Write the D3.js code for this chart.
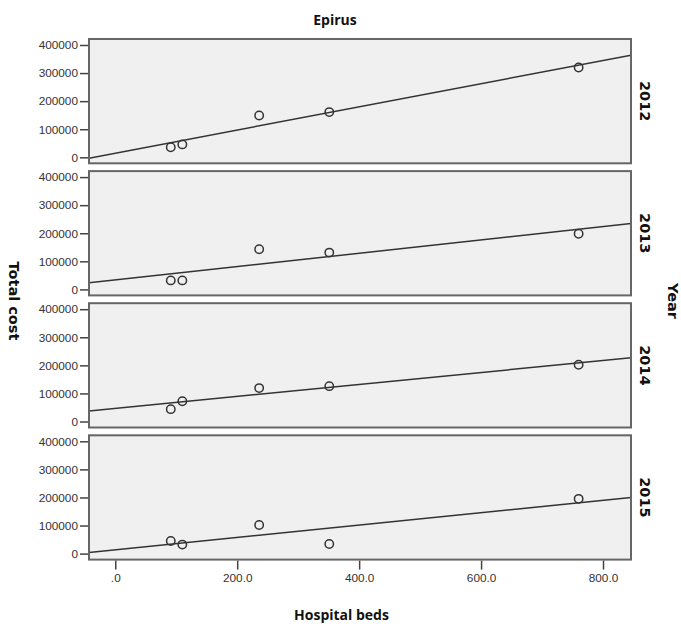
<!DOCTYPE html>
<html><head><meta charset="utf-8">
<script src="https://cdn.jsdelivr.net/npm/d3@7"></script>
<style>body{margin:0;background:#fff}</style>
</head><body>
<script>
const years = ["2012", "2013", "2014", "2015"];
const beds = [91, 110, 236, 351, 760];
const cost2012 = [36000, 46000, 149000, 161000, 320000];
const cost2013 = [32000, 32000, 143000, 131000, 198000];
const cost2014 = [44000, 72000, 119000, 126000, 202000];
const cost2015 = [45000, 32000, 102000, 34000, 195000];
const costs = [cost2012, cost2013, cost2014, cost2015];
const yTicks = [0, 100000, 200000, 300000, 400000];
const xTicks = [0, 200, 400, 600, 800];

const W = 681, H = 624;
const left = 89, right = 631, top0 = 39, panelH = 124.3, step = 132.1;

const svg = d3.select("body").append("svg").attr("width", W).attr("height", H);

const x = d3.scaleLinear().domain([-43.1, 845.9]).range([left, right]);

function fit(xs, ys) {
  const mx = d3.mean(xs), my = d3.mean(ys);
  let sxy = 0, sxx = 0;
  xs.forEach((v, i) => { sxy += (v - mx) * (ys[i] - my); sxx += (v - mx) * (v - mx); });
  const b = sxy / sxx;
  return { a: my - b * mx, b };
}

years.forEach((yr, i) => {
  const t = top0 + i * step;
  const y = d3.scaleLinear().domain([0, 400000]).range([t + 118.3, t + 6]);
  const g = svg.append("g");
  g.append("rect").attr("x", left).attr("y", t).attr("width", right - left).attr("height", panelH)
    .attr("fill", "#f0f0f0");
  const clipId = "c" + i;
  svg.append("clipPath").attr("id", clipId).append("rect")
    .attr("x", left).attr("y", t).attr("width", right - left).attr("height", panelH);
  const data = beds.map((b, k) => ({ b, c: costs[i][k] }));
  const f = fit(beds, costs[i]);
  const dom = x.domain();
  g.append("line").attr("clip-path", `url(#${clipId})`)
    .attr("x1", x(dom[0])).attr("y1", y(f.a + f.b * dom[0]))
    .attr("x2", x(dom[1])).attr("y2", y(f.a + f.b * dom[1]))
    .attr("stroke", "#333").attr("stroke-width", 1.5);
  g.selectAll("circle").data(data).join("circle")
    .attr("cx", d => x(d.b)).attr("cy", d => y(d.c)).attr("r", 4.2)
    .attr("fill", "none").attr("stroke", "#333").attr("stroke-width", 1.5);
  g.append("rect").attr("x", left).attr("y", t).attr("width", right - left).attr("height", panelH)
    .attr("fill", "none").attr("stroke", "#666").attr("stroke-width", 2);
  const ax = g.append("g").attr("transform", `translate(${left - 1},0)`)
    .call(d3.axisLeft(y).tickValues(yTicks).tickSize(8).tickPadding(2).tickFormat(d3.format("d")));
  ax.select(".domain").remove();
  ax.selectAll("line").attr("stroke", "#444").attr("stroke-width", 1.5);
  ax.selectAll("text").attr("fill", "#333").style("font-family", "'Liberation Sans', Arial, sans-serif").style("font-size", "11.8px");
  svg.append("text")
    .attr("transform", `translate(645.5,${t + panelH / 2}) rotate(90)`)
    .attr("text-anchor", "middle").attr("dy", "0.35em")
    .style("font-family", "'DejaVu Sans', sans-serif").style("font-weight", "bold").style("font-size", "14.5px")
    .attr("fill", "#111").text(yr);
});

const bottom = top0 + 3 * step + panelH;
const xa = svg.append("g").attr("transform", `translate(0,${bottom + 1})`)
  .call(d3.axisBottom(x).tickValues(xTicks).tickSize(9).tickPadding(4)
    .tickFormat(d => d === 0 ? ".0" : d3.format(".1f")(d)));
xa.select(".domain").remove();
xa.selectAll("line").attr("stroke", "#444").attr("stroke-width", 1.5);
xa.selectAll("text").attr("fill", "#333").style("font-family", "'Liberation Sans', Arial, sans-serif").style("font-size", "11.8px");

svg.append("text").attr("x", 335).attr("y", 25).attr("text-anchor", "middle")
  .style("font-family", "'Open Sans', sans-serif").style("font-weight", "bold").style("font-size", "14px")
  .attr("fill", "#111").text("Epirus");
svg.append("text").attr("x", 341.5).attr("y", 620).attr("text-anchor", "middle")
  .style("font-family", "'Open Sans', sans-serif").style("font-weight", "bold").style("font-size", "14px")
  .attr("fill", "#111").text("Hospital beds");
svg.append("text").attr("transform", "translate(14,301) rotate(90)").attr("text-anchor", "middle").attr("dy", "0.35em")
  .style("font-family", "'DejaVu Sans', sans-serif").style("font-weight", "bold").style("font-size", "14.5px")
  .attr("fill", "#111").text("Total cost");
svg.append("text").attr("transform", "translate(673,301) rotate(90)").attr("text-anchor", "middle").attr("dy", "0.35em")
  .style("font-family", "'DejaVu Sans', sans-serif").style("font-weight", "bold").style("font-size", "14.5px")
  .attr("fill", "#111").text("Year");
</script>
</body></html>
